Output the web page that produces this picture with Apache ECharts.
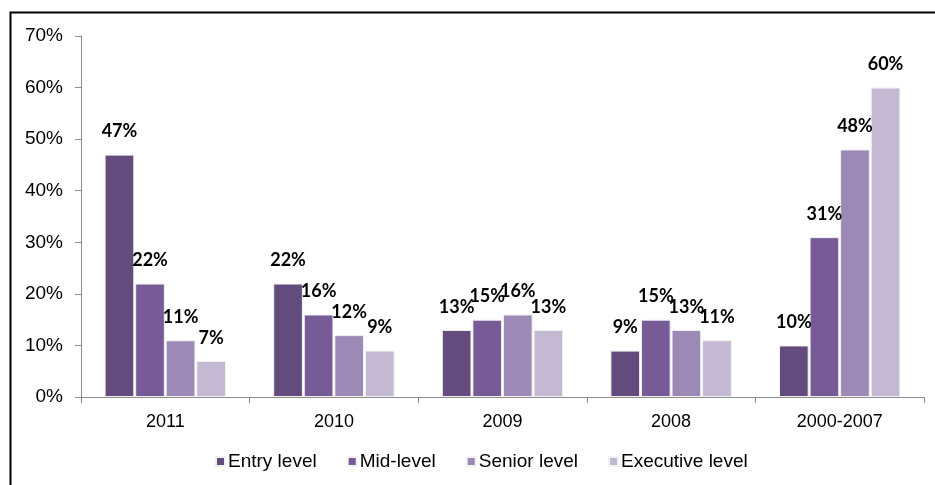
<!DOCTYPE html>
<html><head><meta charset="utf-8">
<script src="https://cdn.jsdelivr.net/npm/echarts@6/dist/echarts.min.js"></script>
<style>html,body{margin:0;padding:0;background:#fff}#c{width:935px;height:485px}</style>
</head><body><div id="c"></div>
<script>
const categories = ['2011','2010','2009','2008','2000-2007'];
const seriesNames = ['Entry level','Mid-level','Senior level','Executive level'];
const entryLevel = [47,22,13,9,10];
const midLevel = [22,16,15,15,31];
const seniorLevel = [11,12,16,13,48];
const executiveLevel = [7,9,13,11,60];
const yTicks = [0,10,20,30,40,50,60,70];
const colors = ['#634C7D','#775B97','#9D89B5','#C3B9D3'];
const values = [entryLevel, midLevel, seniorLevel, executiveLevel];

const chart = echarts.init(document.getElementById('c'));
chart.setOption({
  animation:false,
  graphic:[{type:'rect',shape:{x:10.5,y:12.5,width:940,height:490},style:{fill:null,stroke:'#000',lineWidth:2},z:-1}],
  grid:{left:81,right:11,top:36,bottom:88},
  legend:{top:447,left:210,itemWidth:9,itemHeight:9,itemGap:30,icon:'rect',
    textStyle:{fontFamily:'Liberation Sans',fontSize:19,color:'#000',padding:[0,0,0,-2]},
    data:seriesNames},
  xAxis:{type:'category',data:categories,
    axisLine:{lineStyle:{color:'#8c8c8c'}},
    axisTick:{show:true,length:6,lineStyle:{color:'#8c8c8c'}},
    axisLabel:{fontFamily:'Liberation Sans',fontSize:18,color:'#000',margin:16}},
  yAxis:{type:'value',min:0,max:70,interval:10,
    axisLine:{show:true,lineStyle:{color:'#8c8c8c'}},
    axisTick:{show:true,length:6,lineStyle:{color:'#8c8c8c'}},
    splitLine:{show:false},
    axisLabel:{fontFamily:'Liberation Sans',fontSize:19,color:'#000',margin:18,
      formatter:v=> yTicks.includes(v)? v+'%':''}},
  series: seriesNames.map((n,i)=>({
    name:n,type:'bar',data:values[i],barGap:'3%',barCategoryGap:'28%',
    itemStyle:{color:colors[i],borderColor:'#f2f2f2',borderWidth:1},
    label:{show:true,position:'top',distance:14,formatter:'{c}%',
      fontFamily:'Lato',fontWeight:'bold',fontSize:18,color:'#000'}
  }))
});
</script></body></html>
